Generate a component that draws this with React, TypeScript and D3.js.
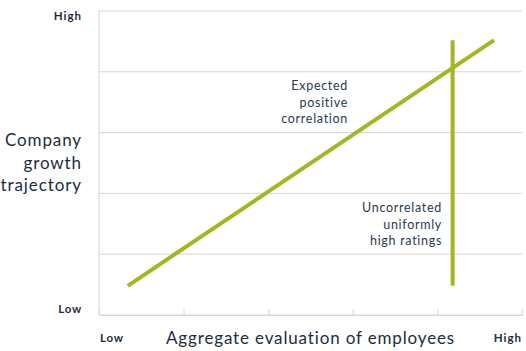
import React, { useEffect, useRef } from "react";
import * as d3 from "d3";

// conceptual chart: both axes run Low..High on a 0-5 scale
const axisLabels = ["Low", "High"];
const yTitle = ["Company", "growth", "trajectory"];
const xTitle = "Aggregate evaluation of employees";
const gridSteps = [0, 1, 2, 3, 4, 5];

// expected positive correlation line
const correlationX = [0.34, 4.67];
const correlationY = [0.48, 4.52];
// uncorrelated, uniformly high ratings
const uniformX = [4.18, 4.18];
const uniformY = [0.48, 4.52];

const noteExpected = ["Expected", "positive", "correlation"];
const noteUniform = ["Uncorrelated", "uniformly", "high ratings"];

const W = 526;
const H = 351;
const margin = { top: 11, right: 4, bottom: 36, left: 99 };
const green = "#a6b623";
const ink = "#1b2d40";
const font = "Lato, 'Open Sans', sans-serif";

export default function App() {
  const svgRef = useRef<SVGSVGElement>(null);

  useEffect(() => {
    const svg = d3.select(svgRef.current);
    svg.selectAll("*").remove();

    const x = d3.scaleLinear().domain([0, 5]).range([margin.left, W - margin.right]);
    const y = d3.scaleLinear().domain([0, 5]).range([H - margin.bottom, margin.top]);

    // horizontal grid
    svg.append("g")
      .selectAll("line")
      .data(gridSteps)
      .join("line")
      .attr("x1", x(0))
      .attr("x2", x(5))
      .attr("y1", (d) => y(d))
      .attr("y2", (d) => y(d))
      .attr("stroke", "#d6d6d6")
      .attr("stroke-width", 1);

    // left axis line
    svg.append("line")
      .attr("x1", x(0)).attr("x2", x(0))
      .attr("y1", y(0)).attr("y2", y(5))
      .attr("stroke", "#d6d6d6");

    // bottom ticks pointing up
    const xAxis = d3.axisBottom(x).tickValues(gridSteps).tickSize(-6).tickFormat(() => "");
    const gx = svg.append("g").attr("transform", `translate(0,${y(0)})`).call(xAxis);
    gx.select(".domain").attr("stroke", "#d6d6d6");
    gx.selectAll(".tick line").attr("stroke", "#d6d6d6");

    const line = d3.line<[number, number]>()
      .x((d) => x(d[0]))
      .y((d) => y(d[1]));

    svg.append("path")
      .datum(correlationX.map((v, i) => [v, correlationY[i]] as [number, number]))
      .attr("d", line)
      .attr("fill", "none")
      .attr("stroke", green)
      .attr("stroke-width", 4);

    svg.append("path")
      .datum(uniformX.map((v, i) => [v, uniformY[i]] as [number, number]))
      .attr("d", line)
      .attr("fill", "none")
      .attr("stroke", green)
      .attr("stroke-width", 4);

    const small = `bold 11.5px ${font}`;

    // y end labels
    svg.append("text")
      .attr("x", 82).attr("y", 20)
      .attr("text-anchor", "end")
      .style("font", small)
      .style("letter-spacing", "1px")
      .attr("fill", ink)
      .text(axisLabels[1]);
    svg.append("text")
      .attr("x", 82).attr("y", 313)
      .attr("text-anchor", "end")
      .style("font", small)
      .style("letter-spacing", "0.8px")
      .attr("fill", ink)
      .text(axisLabels[0]);

    // x end labels
    svg.append("text")
      .attr("x", 100).attr("y", 342)
      .style("font", small)
      .style("letter-spacing", "0.8px")
      .attr("fill", ink)
      .text(axisLabels[0]);
    svg.append("text")
      .attr("x", 522).attr("y", 342)
      .attr("text-anchor", "end")
      .style("font", small)
      .style("letter-spacing", "1px")
      .attr("fill", ink)
      .text(axisLabels[1]);

    // y title
    svg.append("text")
      .attr("text-anchor", "end")
      .style("font", `17px ${font}`)
      .style("letter-spacing", "0.9px")
      .attr("fill", ink)
      .selectAll("tspan")
      .data(yTitle)
      .join("tspan")
      .attr("x", 82)
      .attr("y", (d, i) => 146 + i * 22.5)
      .text((d) => d);

    // x title
    svg.append("text")
      .attr("x", 166).attr("y", 344)
      .style("font", `17px ${font}`)
      .style("letter-spacing", "0.85px")
      .attr("fill", ink)
      .text(xTitle);

    // annotations
    const note = (lines: string[], ax: number, ay: number) =>
      svg.append("text")
        .attr("text-anchor", "end")
        .style("font", `12.5px ${font}`)
        .style("letter-spacing", "0.7px")
        .attr("fill", "#2a3a4c")
        .selectAll("tspan")
        .data(lines)
        .join("tspan")
        .attr("x", ax)
        .attr("y", (d, i) => ay + i * 16.5)
        .text((d) => d);

    note(noteExpected, 348, 90);
    note(noteUniform, 442, 212);
  }, []);

  return (
    <svg
      ref={svgRef}
      width={W}
      height={H}
      style={{ position: "absolute", left: 0, top: 0, background: "#fff" }}
    />
  );
}
